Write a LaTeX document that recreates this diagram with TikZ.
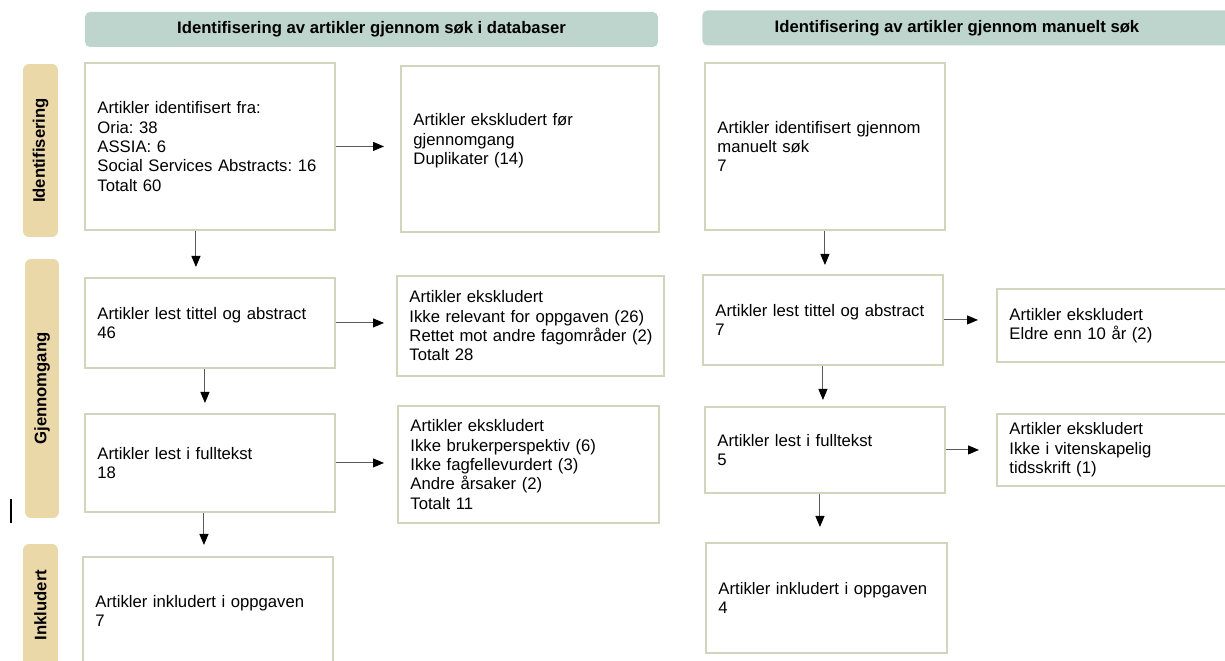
\documentclass[tikz,border=0pt]{standalone}
\usepackage{fontspec}
\setmainfont{Liberation Sans}
\frenchspacing
\usepackage{tikz}
\usetikzlibrary{arrows.meta, positioning}
\definecolor{headfill}{HTML}{BDD5CD}
\definecolor{phasefill}{HTML}{EBD8A9}
\definecolor{boxline}{HTML}{D2D5BD}
\definecolor{arrline}{HTML}{5A5A5A}

\begin{document}
\begin{tikzpicture}[
  x=0.02cm, y=-0.02cm,
  head/.style={fill=headfill, rounded corners=0.1cm, minimum height=0.7cm, inner sep=0pt, font=\fontsize{9.5}{11}\selectfont\bfseries},
  phase/.style={rotate=90, fill=phasefill, rounded corners=0.12cm, minimum height=0.7cm, inner sep=0pt, font=\fontsize{9.5}{11}\selectfont\bfseries},
  box/.style={draw=boxline, line width=1.1pt, anchor=north west, align=left, inner xsep=0.25cm, inner ysep=0pt, font=\fontsize{9.5}{11}\selectfont},
  arr/.style={-{Triangle[length=0.22cm, width=0.18cm, color=black]}, arrline, line width=0.6pt, shorten >=0.2cm}
]

\useasboundingbox (0,0) rectangle (1225,661);
\clip (0,0) rectangle (1225,661);

% Headers
\node[head, minimum width=11.46cm] (dbhead) at (371.5,29.5) {Identifisering av artikler gjennom søk i databaser};
\node[head, minimum width=10.9cm, anchor=west] (manhead) at (702,28) {};
\node[font=\fontsize{9.5}{11}\selectfont\bfseries] (manheadtext) at (957,28) {Identifisering av artikler gjennom manuelt søk};

% Phases
\node[phase, minimum width=3.46cm] (phid) at (40.5,150.5) {Identifisering};
\node[phase, minimum width=5.18cm, minimum height=0.68cm] (phscreen) at (42,388.5) {Gjennomgang};
\node[phase, minimum width=2.44cm] (phinc) at (40.5,605) {Inkludert};
\draw[line width=0.8pt] (11,499) -- (11,523);

% --- Database search ---
\node[box, text width=4.5cm, minimum height=3.34cm] (dbid) at (84,62)
  {Artikler identifisert fra:\\ Oria: 38\\ ASSIA: 6\\ Social Services Abstracts: 16\\ Totalt 60};
\node[box, text width=4.66cm, minimum height=3.32cm] (dbdup) at (400,65)
  {Artikler ekskludert før\\ gjennomgang\\ Duplikater (14)\\~};
\node[box, text width=4.5cm, minimum height=1.8cm] (dbtitle) at (84,277)
  {Artikler lest tittel og abstract\\ 46};
\node[box, text width=4.84cm, minimum height=2cm] (dbexa) at (396,275)
  {Artikler ekskludert\\ Ikke relevant for oppgaven (26)\\ \mbox{Rettet mot andre fagområder (2)}\\ Totalt 28};
\node[box, text width=4.5cm, minimum height=1.96cm] (dbfull) at (84,413)
  {Artikler lest i fulltekst\\ 18};
\node[box, text width=4.72cm, minimum height=2.34cm] (dbexf) at (397,405)
  {Artikler ekskludert\\ Ikke brukerperspektiv (6)\\ Ikke fagfellevurdert (3)\\ Andre årsaker (2)\\ Totalt 11};
\node[box, text width=4.5cm, minimum height=2.16cm] (dbinc) at (82,556)
  {Artikler inkludert i oppgaven\\ 7};

\draw[arr, shorten >=0.32cm] (dbid.east) -- (dbid.east -| dbdup.west);
\draw[arr] ([xshift=-0.28cm]dbid.south) -- ([xshift=-0.28cm]dbid.south |- dbtitle.north);
\draw[arr, shorten >=0.24cm] (dbtitle.east) -- (dbtitle.east -| dbexa.west);
\draw[arr] ([xshift=-0.1cm]dbtitle.south) -- ([xshift=-0.1cm]dbtitle.south |- dbfull.north);
\draw[arr, shorten >=0.26cm] (dbfull.east) -- (dbfull.east -| dbexf.west);
\draw[arr, shorten >=0.22cm] ([xshift=-0.12cm]dbfull.south) -- ([xshift=-0.12cm]dbfull.south |- dbinc.north);

% --- Manual search ---
\node[box, text width=4.3cm, minimum height=3.34cm] (manid) at (704,62)
  {Artikler identifisert gjennom\\ manuelt søk\\ 7};
\node[box, text width=4.3cm, minimum height=1.8cm] (mantitle) at (702,274)
  {Artikler lest tittel og abstract\\ 7};
\node[box, text width=4.5cm, minimum height=1.46cm] (manexa) at (996,288)
  {Artikler ekskludert\\ Eldre enn 10 år (2)};
\node[box, text width=4.3cm, minimum height=1.72cm] (manfull) at (704,406)
  {Artikler lest i fulltekst\\ 5};
\node[box, text width=4.5cm, minimum height=1.44cm] (manexf) at (996,413)
  {Artikler ekskludert\\ Ikke i vitenskapelig\\ tidsskrift (1)};
\node[box, text width=4.32cm, minimum height=2.2cm] (maninc) at (705,542)
  {Artikler inkludert i oppgaven\\ 4};

\draw[arr, shorten >=0.18cm] (manid.south) -- (manid.south |- mantitle.north);
\draw[arr, shorten >=0.36cm] (mantitle.east) -- (mantitle.east -| manexa.west);
\draw[arr, shorten >=0.12cm] (mantitle.south) -- (mantitle.south |- manfull.north);
\draw[arr, shorten >=0.34cm] (manfull.east) -- (manfull.east -| manexf.west);
\draw[arr, shorten >=0.3cm] ([xshift=-0.1cm]manfull.south) -- ([xshift=-0.1cm]manfull.south |- maninc.north);

\end{tikzpicture}
\end{document}
